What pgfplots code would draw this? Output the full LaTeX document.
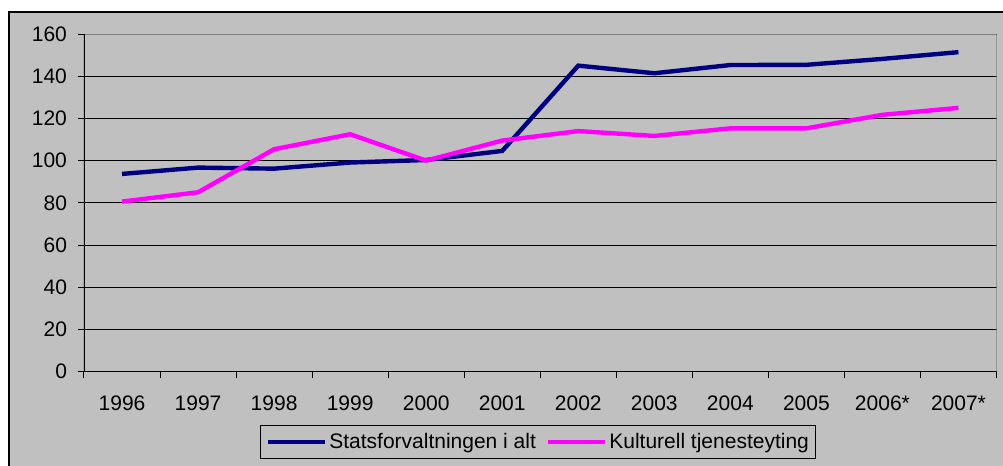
\documentclass[border=0pt]{standalone}
\usepackage{pgfplots}
\pgfplotsset{compat=1.18}
\usepackage{fontspec}
\setmainfont{Liberation Sans}
\definecolor{bggray}{HTML}{C0C0C0}
\definecolor{navyline}{HTML}{000080}
\definecolor{magline}{HTML}{FF00FF}
\definecolor{edgegray}{HTML}{808080}
\begin{document}
\begin{tikzpicture}
\clip (0pt,0pt) rectangle (501.5pt,233pt);
\fill[white] (0pt,0pt) rectangle (501.5pt,233pt);
\draw[black, line width=0.6pt, fill=bggray] (4.5pt,-10pt) rectangle (520pt,227pt);
\begin{axis}[
  at={(42pt,47.15pt)}, anchor=south west,
  scale only axis, width=456.25pt, height=168.85pt,
  xmin=-0.5, xmax=11.5, ymin=0, ymax=160,
  xtick={-0.5,0.5,...,11.5}, xticklabels={},
  extra x ticks={0,1,2,3,4,5,6,7,8,9,10,11},
  extra x tick labels={1996,1997,1998,1999,2000,2001,2002,2003,2004,2005,2006*,2007*},
  extra x tick style={major tick length=0pt, xticklabel style={yshift=-8.5pt}},
  xtick pos=bottom, ytick pos=left,
  ytick={0,20,...,160},
  ymajorgrids, xmajorgrids=false,
  grid style={black, line width=0.5pt},
  tick align=outside, major tick length=3pt,
  tick style={black, line width=0.5pt},
  axis line style={draw=none},
  tick label style={font=\fontsize{10.5}{12}\selectfont},
  yticklabel style={xshift=-2pt},
  /pgf/number format/assume math mode=true,
  legend columns=2,
  legend style={at={(0.498,-0.208)}, anchor=center, draw=black, fill=bggray,
    line width=0.5pt, font=\fontsize{10.5}{12}\selectfont,
    inner xsep=2.5pt, inner ysep=2.5pt,
    /tikz/every even column/.append style={column sep=4pt},
    nodes={inner sep=1pt}},
  legend image code/.code={\draw[#1] (0pt,0pt) -- (28.5pt,0pt);},
]
\addplot[navyline, line width=2.2pt] coordinates {
 (0,93.7) (1,96.7) (2,96.2) (3,99.1) (4,100.3) (5,104.6)
 (6,145) (7,141.4) (8,145.3) (9,145.4) (10,148.2) (11,151.4)};
\addlegendentry{Statsforvaltningen i alt}
\addplot[magline, line width=2.2pt] coordinates {
 (0,80.6) (1,85) (2,105.4) (3,112.5) (4,100) (5,109.5)
 (6,114) (7,111.7) (8,115.3) (9,115.3) (10,121.7) (11,125)};
\addlegendentry{Kulturell tjenesteyting}
\draw[edgegray, line width=1pt] (rel axis cs:0,1) -- (rel axis cs:1,1) -- (rel axis cs:1,0);
\draw[black, line width=0.6pt] (rel axis cs:0,1) -- (rel axis cs:0,0) -- (rel axis cs:1,0);
\end{axis}
\end{tikzpicture}
\end{document}
